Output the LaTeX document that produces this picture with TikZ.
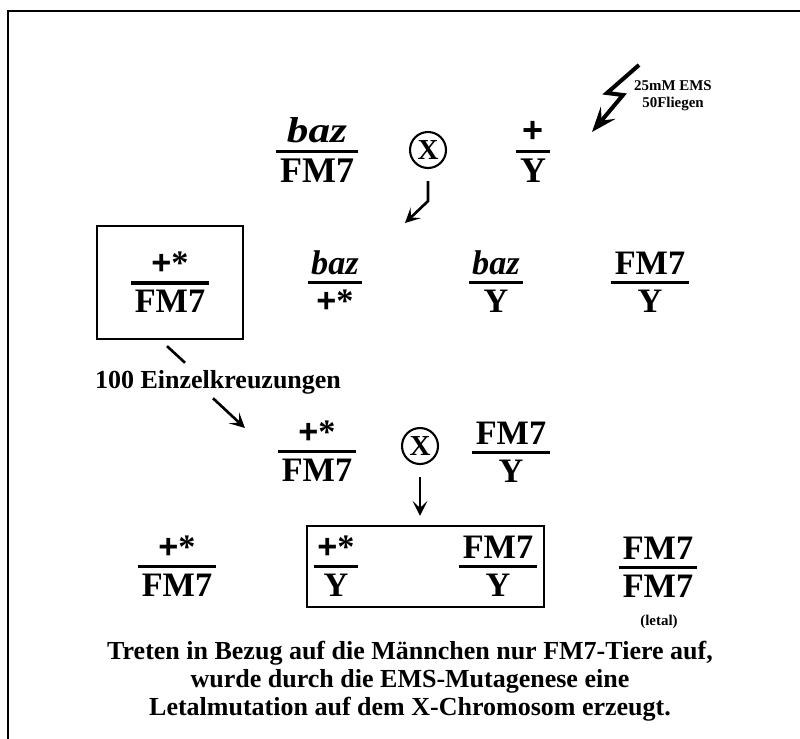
\documentclass[tikz,border=0pt]{standalone}
\usepackage{fontspec}
\setmainfont{Liberation Serif}
\setsansfont{Liberation Sans}
\usetikzlibrary{arrows.meta}
\newcommand{\pl}{{\sffamily+}}
\newcommand{\geno}[2]{{\renewcommand{\arraystretch}{0}\setlength{\arrayrulewidth}{1.8pt}%
  \begin{tabular}{@{\hspace{2pt}}c@{\hspace{2pt}}}#1\rule[-0.2em]{0pt}{1.02em}\\\hline\rule[-0.17em]{0pt}{0.99em}#2\end{tabular}}}
\tikzset{
  geno/.style={inner sep=0pt, font=\fontsize{19.5}{22}\selectfont\bfseries},
  selbox/.style={geno, draw, line width=1.3pt},
  cross/.style={draw, circle, line width=1.2pt, minimum size=0.72cm, inner sep=0pt,
    font=\fontsize{16.5}{18}\selectfont\bfseries},
  frame/.style={draw, line width=1.2pt},
  arrow/.style={-{Stealth[length=0.3cm,width=0.3cm,inset=0.14cm]}, line width=1.5pt},
  link/.style={line width=1.5pt},
  bolt/.style={-{Stealth[length=0.5cm,width=0.38cm,inset=0.2cm]}, line width=2.3pt, line join=miter},
  note/.style={inner sep=0pt, font=\fontsize{14.8}{15.9}\selectfont\bfseries, align=center},
  small/.style={inner sep=0pt, font=\fontsize{8.5}{9.8}\selectfont\bfseries, align=center}
}
\begin{document}
\begin{tikzpicture}[x=0.02cm, y=-0.02cm]
  \useasboundingbox (0,0) rectangle (800,738);
  \draw[frame] (8,750) |- (810,11);

  % Parental cross, EMS treated males
  \node[geno, font=\fontsize{20.5}{23}\selectfont\bfseries] (bazfm) at (317,151)
    {\geno{\scalebox{1.2}[1]{\itshape baz}}{FM7}};
  \node[cross] (kreuz1) at (428,150) {X};
  \node[geno, font=\fontsize{20.5}{23}\selectfont\bfseries] (plusy) at (533,151) {\geno{\pl}{Y}};
  \coordinate (blitz) at (639,65);
  \draw[bolt] (blitz) -- (607,93) -- (623,95) -- (592,132);
  \node[small] (ems) at (673,96) {25mM EMS\\50Fliegen};
  \coordinate (f1) at (405,223);
  \draw[arrow] ([yshift=-0.24cm]kreuz1.south) -- ++(0,20) -- (f1);

  % F1
  \node[selbox, minimum width=2.92cm, minimum height=2.26cm] (box1) at (170,282.5) {\geno{\pl*}{FM7}};
  \node[geno] (bazplus) at (335,282) {\geno{\itshape baz}{\pl*}};
  \node[geno] (bazy) at (496,282) {\geno{\itshape baz}{Y}};
  \node[geno] (fmy) at (650,282) {\geno{FM7}{Y}};

  \node[note] (einzel) at (218,382) {100 Einzelkreuzungen};
  \draw[link] ([shift={(-3,6)}]box1.south) -- ([shift={(-33,-7)}]einzel.north);

  % single crosses
  \node[geno] (crossa) at (317,451) {\geno{\pl*}{FM7}};
  \node[cross] (kreuz2) at (420,446) {X};
  \node[geno] (fmy2) at (511,452) {\geno{FM7}{Y}};
  \draw[arrow] ([shift={(-5,4)}]einzel.south) -- ([shift={(-33,-23)}]crossa.west);

  % F2
  \node[geno] (plusfm) at (177,566) {\geno{\pl*}{FM7}};
  \node[draw, line width=1.3pt, minimum width=4.74cm, minimum height=1.62cm, inner sep=0pt] (box2) at (425.5,566.5) {};
  \node[geno] (plusy2) at (336,566) {\geno{\pl*}{Y}};
  \node[geno] (fmy3) at (498,566) {\geno{FM7}{Y}};
  \node[geno] (fmfm) at (658,567) {\geno{FM7}{FM7}};
  \node[small] (letal) at (659,622) {(letal)};
  \draw[arrow, shorten <=0.24cm, shorten >=0.18cm] (kreuz2.south) -- (kreuz2.south |- box2.north);

  \node[note, anchor=north] (fazit) at (410,641)
    {Treten in Bezug auf die Männchen nur FM7-Tiere auf,\\wurde durch die EMS-Mutagenese eine\\Letalmutation auf dem X-Chromosom erzeugt.};
\end{tikzpicture}
\end{document}
